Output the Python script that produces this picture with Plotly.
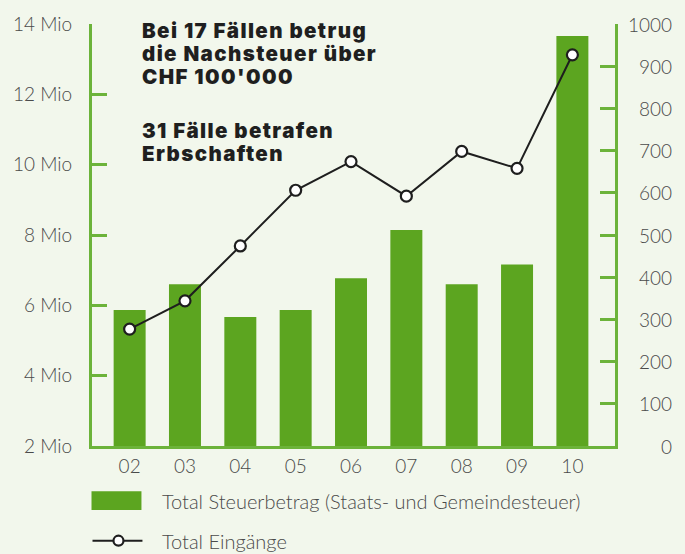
import plotly.graph_objects as go

# ---- data ----
years = ["02", "03", "04", "05", "06", "07", "08", "09", "10"]
steuerbetrag_mio = [5.87, 6.60, 5.67, 5.87, 6.77, 8.14, 6.60, 7.16, 13.66]
eingaenge = [277, 344, 474, 606, 674, 592, 698, 658, 927]
left_ticks = [2, 4, 6, 8, 10, 12, 14]
left_tick_text = ["2 Mio", "4 Mio", "6 Mio", "8 Mio", "10 Mio", "12 Mio", "14 Mio"]
right_ticks = [0, 100, 200, 300, 400, 500, 600, 700, 800, 900, 1000]
note_block1 = ["Bei 17 Fällen betrug", "die Nachsteuer über", "CHF 100'000"]
note_block2 = ["31 Fälle betrafen", "Erbschaften"]
legend_bar = "Total Steuerbetrag (Staats- und Gemeindesteuer)"
legend_line = "Total Eingänge"

# ---- style ----
BG = "#f2f7ec"
BAR = "#5ca520"
AXIS = "#6cb33a"
LINE = "#1e1e1e"
TXT = "#4a4a4a"
FONT = "Lato"
BOLD_FONT = "Inter"

W, H = 685, 554
ML, MR, MT, MB = 91.5, 70, 18, 108
PW = W - ML - MR
PH = H - MT - MB

def px_x(p):
    return (p - ML) / PW

def px_y(p):
    return (H - MB - p) / PH

x = list(range(len(years)))

fig = go.Figure()
fig.add_trace(go.Bar(x=x, y=steuerbetrag_mio, marker_color=BAR, width=0.578,
                     marker_line_width=0, yaxis="y", showlegend=False))
fig.add_trace(go.Scatter(x=x, y=eingaenge, yaxis="y2", mode="lines+markers",
                         line=dict(color=LINE, width=2),
                         marker=dict(size=11, color="white", line=dict(color=LINE, width=2.2)),
                         showlegend=False))

tickfont = dict(size=19, color=TXT, family=FONT, weight=300)
fig.update_layout(
    width=W, height=H,
    margin=dict(l=ML, r=MR, t=MT, b=MB),
    paper_bgcolor=BG, plot_bgcolor=BG,
    font=dict(family=FONT, color=TXT, size=18, weight=300),
    xaxis=dict(range=[-0.68, 8.77], tickvals=x, ticktext=years, showgrid=False,
               zeroline=False, showline=True, linecolor=AXIS, linewidth=3, ticks="",
               tickfont=tickfont, ticklabelstandoff=1),
    yaxis=dict(range=[2, 14], tickvals=left_ticks, ticktext=left_tick_text, showgrid=False,
               zeroline=False, showline=True, linecolor=AXIS, linewidth=3,
               ticks="inside", ticklen=15, tickwidth=3, tickcolor=AXIS,
               tickfont=tickfont, ticklabelstandoff=13),
    yaxis2=dict(range=[0, 1000], tickvals=right_ticks, showticklabels=False, overlaying="y",
                side="right", showgrid=False, zeroline=False, showline=True, linecolor=AXIS,
                linewidth=3, ticks="inside", ticklen=15, tickwidth=3, tickcolor=AXIS),
)

annotations = []
# right tick labels, right aligned
for v in right_ticks:
    annotations.append(dict(x=px_x(674), xref="paper", y=v, yref="y2", text=str(v),
                            xanchor="right", yanchor="middle", showarrow=False,
                            font=tickfont))

# note text: base font sets line spacing, inner span sets glyph size
def block(lines):
    span = '<span style="font-size:20.5px;letter-spacing:1.4px">{}</span>'
    return "<br>".join(span.format(l) for l in lines)

notefont = dict(size=17.7, color="#1f1f1f", family=BOLD_FONT, weight=900)
annotations.append(dict(x=px_x(140), xref="paper", y=px_y(10), yref="paper",
                        text=block(note_block1), align="left",
                        xanchor="left", yanchor="top", showarrow=False, font=notefont))
annotations.append(dict(x=px_x(140), xref="paper", y=px_y(111), yref="paper",
                        text=block(note_block2), align="left",
                        xanchor="left", yanchor="top", showarrow=False, font=notefont))
# legend text
legfont = dict(size=20, color=TXT, family=FONT, weight=300)
annotations.append(dict(x=px_x(160), xref="paper", y=px_y(502), yref="paper", text=legend_bar,
                        xanchor="left", yanchor="middle", showarrow=False, font=legfont))
annotations.append(dict(x=px_x(160), xref="paper", y=px_y(542), yref="paper", text=legend_line,
                        xanchor="left", yanchor="middle", showarrow=False, font=legfont))
fig.update_layout(annotations=annotations)

shapes = [
    dict(type="rect", xref="paper", yref="paper", x0=px_x(91), x1=px_x(141),
         y0=px_y(511), y1=px_y(492), fillcolor=BAR, line_width=0),
    dict(type="line", xref="paper", yref="paper", x0=px_x(92), x1=px_x(142),
         y0=px_y(542), y1=px_y(542), line=dict(color=LINE, width=2)),
    dict(type="circle", xref="paper", yref="paper", x0=px_x(113), x1=px_x(123),
         y0=px_y(547), y1=px_y(537), fillcolor="white", line=dict(color=LINE, width=2.2)),
]
fig.update_layout(shapes=shapes)

fig.write_html("out.html", config={"displayModeBar": False},
               post_script="document.body.style.margin='0';document.body.style.overflow='hidden';"
                           "document.body.style.background='" + BG + "';")
